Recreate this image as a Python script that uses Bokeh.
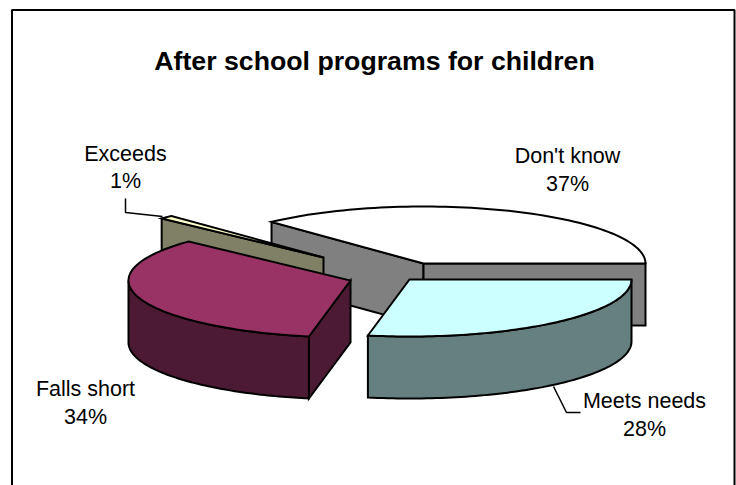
import numpy as np
from bokeh.embed import file_html
from bokeh.resources import INLINE
from bokeh.plotting import figure
from bokeh.models import ColumnDataSource
from bokeh.core.properties import value

# ---- data ----
title = "After school programs for children"
categories = ["Don't know", "Meets needs", "Falls short", "Exceeds"]
values = [37, 28, 34, 1]

# ---- styles / layout (pixel-like data space) ----
tops = ["#FFFFFF", "#CCFFFF", "#993366", "#FFFFCC"]
sides = ["#808080", "#668080", "#4D1A33", "#808066"]
centres = [(423, 263), (409, 279), (350, 280), (323, 257)]
RX, RY, DEPTH = 222, 57, 62
label_pos = [(567, 155, 183), (644, 400, 428), (85, 388, 416), (125, 153, 180)]
FONT = value("Liberation Sans")

W, H = 736, 485
p = figure(width=W, height=H, x_range=(0, W), y_range=(H, 0),
           x_axis_type=None, y_axis_type=None, toolbar_location=None,
           output_backend="svg", min_border=0, outline_line_color=None,
           background_fill_color="white", border_fill_color="white")
p.grid.visible = False

# chart frame
p.quad(left=[11.5], right=[734], top=[9.5], bottom=[520], fill_color="white",
       line_color="black", line_width=2)

# angles are clockwise from east, in degrees; Don't know ends at east
fracs = np.array(values, float) / sum(values) * 360
spans = []
a = -fracs[0]
for f in fracs:
    spans.append((a, a + f))
    a += f


def pt(c, deg, d=0.0):
    t = np.radians(deg)
    return c[0] + RX * np.cos(t), c[1] + RY * np.sin(t) + d


def arc(c, a0, a1, d=0.0):
    ts = np.linspace(a0, a1, 80)
    return [pt(c, t, d) for t in ts]


def add(poly, color):
    xs, ys = zip(*poly)
    p.patch(list(xs), list(ys), fill_color=color, line_color="black",
            line_width=2, line_join="miter")


def radial_wall(c, deg, color):
    e = pt(c, deg)
    add([c, e, (e[0], e[1] + DEPTH), (c[0], c[1] + DEPTH)], color)


def outer_wall(c, a0, a1, color):
    add(arc(c, a0, a1) + arc(c, a1, a0, DEPTH), color)


def top_face(c, a0, a1, color):
    add([c] + arc(c, a0, a1), color)


# Don't know (back)
a0, a1 = spans[0]
radial_wall(centres[0], a0, sides[0])
radial_wall(centres[0], a1, sides[0])
top_face(centres[0], a0, a1, tops[0])

# Exceeds
a0, a1 = spans[3]
radial_wall(centres[3], a0, sides[3])
top_face(centres[3], a0, a1, tops[3])

# Falls short
a0, a1 = spans[2]
radial_wall(centres[2], a0, sides[2])
outer_wall(centres[2], a0, 180, sides[2])
top_face(centres[2], a0, a1, tops[2])

# Meets needs
a0, a1 = spans[1]
outer_wall(centres[1], a0, a1, sides[1])
top_face(centres[1], a0, a1, tops[1])

# leader lines
p.line([125, 125, 162], [198, 212, 216], line_color="black", line_width=1.5)
p.line([553, 566, 580], [386, 412, 412], line_color="black", line_width=1.5)

# labels
src = ColumnDataSource(dict(
    x=[l[0] for l in label_pos],
    y1=[l[1] for l in label_pos],
    y2=[l[2] for l in label_pos],
    name=categories,
    pct=[f"{v}%" for v in values],
))
for yc, tc in (("y1", "name"), ("y2", "pct")):
    p.text(x="x", y=yc, text=tc, source=src, text_font=FONT,
           text_font_size="21.5px", text_color="black", text_align="center",
           text_baseline="middle")

p.text(x=[374], y=[60], text=[title], text_font=FONT, text_font_size="26.7px",
       text_font_style="bold", text_color="black", text_align="center",
       text_baseline="middle")

open("out.html", "w").write(file_html(p, INLINE))
